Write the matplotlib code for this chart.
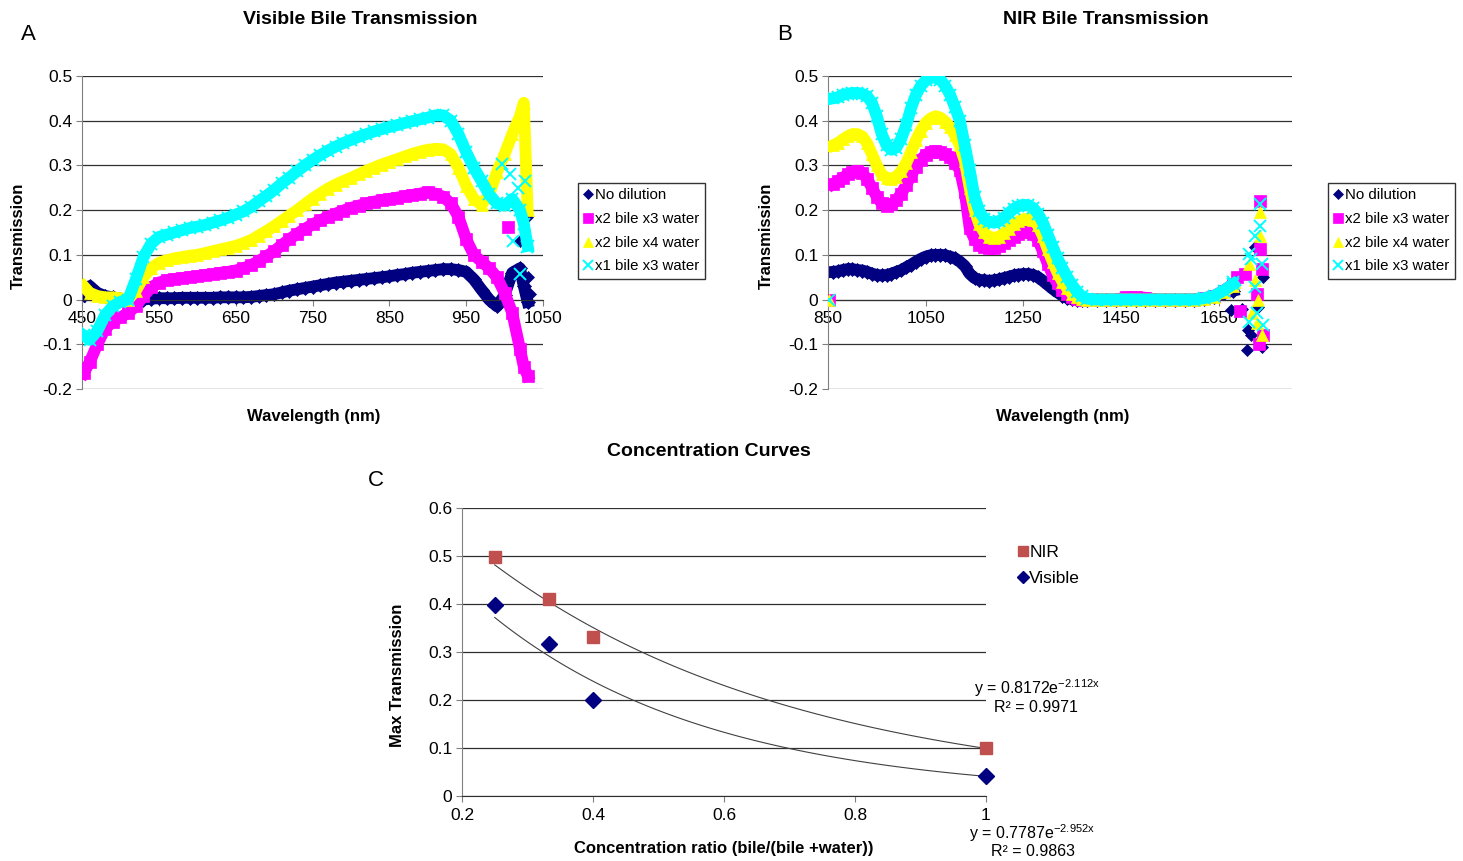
import numpy as np
import matplotlib
matplotlib.use('Agg')
import matplotlib.pyplot as plt
from matplotlib.ticker import FuncFormatter

plt.rcParams['font.family'] = ['Liberation Sans', 'DejaVu Sans']
plt.rcParams['mathtext.fontset'] = 'custom'
plt.rcParams['mathtext.rm'] = 'Liberation Sans'

# ---- visible spectra (panel A) ----
vis_wl = [452, 460, 470, 480, 490, 500, 510, 520, 530, 540, 550, 560, 570, 580, 590,
          600, 610, 620, 630, 640, 650, 660, 670, 680, 690, 700, 710, 720, 730, 740,
          750, 760, 770, 780, 790, 800, 810, 820, 830, 840, 850, 860, 870, 880, 890,
          900, 910, 920, 930, 940, 950, 960, 970, 980, 990, 1000, 1010, 1020, 1025, 1030]
vis_no_dilution = [0.01, 0.03, 0.015, 0.008, 0.005, 0.002, 0.0, 0.0, 0.0, 0.002, 0.003, 0.003, 0.003, 0.004, 0.004,
                   0.004, 0.004, 0.004, 0.005, 0.005, 0.005, 0.005, 0.006, 0.008, 0.01, 0.012, 0.016, 0.02, 0.023, 0.026,
                   0.029, 0.032, 0.035, 0.038, 0.04, 0.042, 0.044, 0.046, 0.048, 0.05, 0.052, 0.055, 0.057, 0.06, 0.062,
                   0.064, 0.066, 0.068, 0.068, 0.066, 0.062, 0.045, 0.022, 0.0, -0.015, 0.01, 0.06, 0.07, 0.03, -0.005]
vis_x2b_x3w = [-0.165, -0.14, -0.1, -0.065, -0.05, -0.04, -0.03, -0.015, 0.008, 0.027, 0.038, 0.043, 0.046, 0.048, 0.05,
               0.052, 0.055, 0.057, 0.06, 0.062, 0.065, 0.07, 0.077, 0.086, 0.097, 0.108, 0.122, 0.135, 0.147, 0.158,
               0.168, 0.177, 0.185, 0.192, 0.199, 0.205, 0.21, 0.215, 0.219, 0.222, 0.225, 0.228, 0.231, 0.234, 0.237,
               0.24, 0.237, 0.23, 0.215, 0.185, 0.135, 0.1, 0.085, 0.07, 0.05, 0.015, -0.03, -0.11, -0.15, -0.17]
vis_x2b_x4w = [0.03, 0.015, 0.008, 0.005, 0.005, 0.003, 0.0, 0.02, 0.05, 0.07, 0.082, 0.088, 0.092, 0.095, 0.098,
               0.1, 0.104, 0.108, 0.112, 0.116, 0.12, 0.126, 0.133, 0.143, 0.153, 0.164, 0.176, 0.188, 0.2, 0.213,
               0.226, 0.237, 0.248, 0.257, 0.265, 0.272, 0.28, 0.288, 0.295, 0.302, 0.308, 0.314, 0.32, 0.326, 0.331,
               0.335, 0.337, 0.336, 0.325, 0.295, 0.255, 0.225, 0.212, 0.235, 0.285, 0.325, 0.37, 0.41, 0.44, 0.2]
vis_x1b_x3w = [-0.08, -0.09, -0.07, -0.035, -0.015, -0.005, 0.0, 0.045, 0.095, 0.125, 0.14, 0.145, 0.15, 0.155, 0.16,
               0.163, 0.167, 0.172, 0.177, 0.183, 0.19, 0.197, 0.207, 0.22, 0.232, 0.245, 0.26, 0.273, 0.287, 0.3,
               0.312, 0.323, 0.333, 0.342, 0.35, 0.357, 0.364, 0.37, 0.376, 0.381, 0.386, 0.39, 0.395, 0.399, 0.403,
               0.407, 0.412, 0.412, 0.4, 0.37, 0.33, 0.295, 0.265, 0.235, 0.215, 0.21, 0.225, 0.2, 0.17, 0.12]

# scattered points at the noisy red end of the visible range
vis_no_dilution_pts_x = [1020, 1029, 1031, 1033]
vis_no_dilution_pts_y = [0.13, 0.184, 0.05, 0.013]
vis_x2b_x3w_pts_x = [1005]
vis_x2b_x3w_pts_y = [0.162]
vis_x2b_x4w_pts_x = []
vis_x2b_x4w_pts_y = []
vis_x1b_x3w_pts_x = [996, 1007, 1011, 1018, 1020, 1027, 1029]
vis_x1b_x3w_pts_y = [0.304, 0.28, 0.132, 0.25, 0.057, 0.266, 0.117]

# ---- NIR spectra (panel B) ----
nir_wl = [860, 870, 880, 890, 900, 910, 920, 930, 940, 950, 960, 970, 980, 990, 1000,
          1010, 1020, 1030, 1040, 1050, 1060, 1070, 1080, 1090, 1100, 1110, 1120, 1130, 1140, 1150,
          1160, 1170, 1180, 1190, 1200, 1210, 1220, 1230, 1240, 1250, 1260, 1270, 1280, 1290, 1300,
          1310, 1320, 1330, 1340, 1350, 1360, 1370, 1380, 1400, 1420, 1440, 1460, 1480, 1500, 1520,
          1540, 1560, 1580, 1600, 1620, 1640, 1660, 1680]
nir_no_dilution = [0.062, 0.063, 0.066, 0.068, 0.068, 0.066, 0.065, 0.062, 0.058, 0.055, 0.054, 0.055, 0.058, 0.062, 0.066,
                   0.072, 0.078, 0.085, 0.091, 0.096, 0.099, 0.1, 0.1, 0.099, 0.096, 0.092, 0.085, 0.075, 0.058, 0.048,
                   0.044, 0.043, 0.042, 0.043, 0.045, 0.048, 0.051, 0.054, 0.056, 0.057, 0.057, 0.055, 0.05, 0.042, 0.033,
                   0.024, 0.016, 0.009, 0.004, 0.001, 0.0, 0.0, 0.0, 0.0, 0.0, 0.0, 0.0, 0.0, 0.0, 0.0,
                   0.0, 0.0, 0.0, 0.0, 0.002, 0.005, 0.015, 0.02]
nir_x2b_x3w = [0.258, 0.265, 0.272, 0.28, 0.286, 0.288, 0.283, 0.27, 0.25, 0.23, 0.215, 0.21, 0.213, 0.222, 0.237,
               0.256, 0.277, 0.297, 0.313, 0.324, 0.33, 0.332, 0.331, 0.326, 0.318, 0.305, 0.29, 0.24, 0.16, 0.135,
               0.123, 0.117, 0.115, 0.116, 0.12, 0.126, 0.133, 0.14, 0.146, 0.15, 0.151, 0.147, 0.133, 0.108, 0.08,
               0.055, 0.036, 0.022, 0.012, 0.006, 0.002, 0.0, 0.0, 0.0, 0.0, 0.0, 0.005, 0.005, 0.004, 0.0,
               0.0, 0.0, 0.0, 0.0, 0.003, 0.008, 0.02, 0.035]
nir_x2b_x4w = [0.345, 0.35, 0.358, 0.365, 0.37, 0.37, 0.365, 0.35, 0.325, 0.3, 0.28, 0.272, 0.27, 0.275, 0.287,
               0.305, 0.33, 0.356, 0.378, 0.395, 0.405, 0.41, 0.407, 0.398, 0.385, 0.368, 0.345, 0.31, 0.25, 0.2,
               0.168, 0.15, 0.14, 0.138, 0.14, 0.148, 0.158, 0.168, 0.175, 0.18, 0.181, 0.178, 0.166, 0.142, 0.112,
               0.085, 0.06, 0.04, 0.025, 0.013, 0.006, 0.002, 0.0, 0.0, 0.0, 0.0, 0.0, 0.0, 0.0, 0.0,
               0.0, 0.0, 0.0, 0.0, 0.002, 0.006, 0.018, 0.03]
nir_x1b_x3w = [0.45, 0.452, 0.458, 0.46, 0.462, 0.462, 0.46, 0.455, 0.44, 0.41, 0.37, 0.345, 0.335, 0.34, 0.36,
               0.39, 0.428, 0.458, 0.478, 0.49, 0.496, 0.497, 0.492, 0.478, 0.458, 0.43, 0.4, 0.345, 0.29, 0.23,
               0.197, 0.18, 0.174, 0.172, 0.175, 0.183, 0.193, 0.203, 0.209, 0.212, 0.211, 0.205, 0.192, 0.172, 0.145,
               0.118, 0.092, 0.07, 0.05, 0.032, 0.018, 0.007, 0.002, 0.0, 0.0, 0.0, 0.0, 0.0, 0.0, 0.0,
               0.0, 0.0, 0.0, 0.0, 0.003, 0.008, 0.02, 0.035]

# scattered points (start marker at 850 and noisy detector edge)
nir_no_dilution_pts_x = [853, 1676, 1697, 1707, 1710, 1717, 1724, 1731, 1738, 1741]
nir_no_dilution_pts_y = [0.0, -0.024, -0.02, -0.113, -0.068, -0.08, 0.117, -0.016, -0.105, 0.05]
nir_x2b_x3w_pts_x = [853, 1687, 1694, 1704, 1728, 1734, 1735, 1733, 1738, 1740]
nir_x2b_x3w_pts_y = [0.0, 0.05, -0.025, 0.058, 0.013, 0.22, 0.113, -0.1, 0.069, -0.08]
nir_x2b_x4w_pts_x = [853, 1711, 1718, 1724, 1728, 1731, 1734, 1734, 1738]
nir_x2b_x4w_pts_y = [0.0, 0.08, -0.031, 0.043, -0.053, 0.0, 0.195, 0.143, -0.08]
nir_x1b_x3w_pts_x = [853, 1680, 1711, 1711, 1717, 1724, 1724, 1728, 1734, 1734, 1738, 1741]
nir_x1b_x3w_pts_y = [0.0, 0.04, 0.102, -0.05, 0.091, 0.143, 0.028, -0.031, 0.213, 0.165, 0.08, -0.057]

# ---- concentration curves (panel C) ----
conc_ratio = [0.25, 0.333, 0.4, 1.0]
max_nir = [0.497, 0.41, 0.332, 0.1]
max_visible = [0.398, 0.317, 0.2, 0.042]

series_names = ['No dilution', 'x2 bile x3 water', 'x2 bile x4 water', 'x1 bile x3 water']
series_colors = ['#000080', '#FF00FF', '#FFFF00', '#00FFFF']
series_markers = ['D', 's', '^', 'x']
series_ms = [5, 6.5, 7, 6.5]

W, H = 1463, 861
fig = plt.figure(figsize=(W / 100, H / 100), dpi=100)


def fx(px):
    return px / W


def fy(py):
    return 1 - py / H


def axes_px(left, top, right, bottom):
    return fig.add_axes([fx(left), fy(bottom), (right - left) / W, (bottom - top) / H])


fmt = FuncFormatter(lambda v, p: '%g' % round(v, 3))


def style_axes(ax, xlim, xticks, ylim, yticks):
    ax.set_xlim(*xlim)
    ax.set_ylim(*ylim)
    ax.set_xticks(xticks)
    ax.set_yticks(yticks)
    ax.xaxis.set_major_formatter(fmt)
    ax.yaxis.set_major_formatter(fmt)
    for y in yticks:
        ax.axhline(y, color='#303030', lw=0.9, zorder=0)
    ax.spines['top'].set_visible(False)
    ax.spines['right'].set_visible(False)
    ax.spines['left'].set_color('#808080')
    ax.spines['bottom'].set_position(('data', 0))
    ax.spines['bottom'].set_color('#303030')
    ax.tick_params(axis='both', labelsize=12.5, length=4, color='#808080', pad=3)
    ax.tick_params(axis='x', pad=4)


def draw_spectra(ax, wl, ys, pts):
    for i, y in enumerate(ys):
        mew = 1.4 if series_markers[i] == 'x' else 0.5
        ax.plot(wl, y, color=series_colors[i], lw=8.5, solid_joinstyle='round', zorder=2 + i)
        ax.plot(wl, y, ls='none', marker=series_markers[i], ms=series_ms[i] + 2, color=series_colors[i],
                mew=mew, zorder=2 + i)
        ax.plot([], [], ls='none', marker=series_markers[i], ms=series_ms[i], color=series_colors[i],
                mew=mew, label=series_names[i])
        ax.plot(pts[i][0], pts[i][1], ls='none', marker=series_markers[i], ms=series_ms[i] + 1.5,
                color=series_colors[i], mew=mew, zorder=2 + i)


def spectra_legend(ax, left, top):
    ax.legend(loc='upper left', bbox_to_anchor=(fx(left), fy(top)), bbox_transform=fig.transFigure,
              fontsize=10.8, frameon=True, fancybox=False, edgecolor='black', handlelength=0.6,
              handletextpad=0.2, labelspacing=0.65, borderpad=0.35, borderaxespad=0)


# panel A
axA = axes_px(82, 76, 543, 389)
style_axes(axA, (450, 1050), range(450, 1051, 100), (-0.2, 0.5), np.arange(-0.2, 0.51, 0.1))
draw_spectra(axA, vis_wl, [vis_no_dilution, vis_x2b_x3w, vis_x2b_x4w, vis_x1b_x3w],
             pts=[(vis_no_dilution_pts_x, vis_no_dilution_pts_y), (vis_x2b_x3w_pts_x, vis_x2b_x3w_pts_y),
                  (vis_x2b_x4w_pts_x, vis_x2b_x4w_pts_y), (vis_x1b_x3w_pts_x, vis_x1b_x3w_pts_y)])
spectra_legend(axA, 578, 183)

# panel B
axB = axes_px(828, 76, 1292, 389)
style_axes(axB, (850, 1800), range(850, 1651, 200), (-0.2, 0.5), np.arange(-0.2, 0.51, 0.1))
draw_spectra(axB, nir_wl, [nir_no_dilution, nir_x2b_x3w, nir_x2b_x4w, nir_x1b_x3w],
             pts=[(nir_no_dilution_pts_x, nir_no_dilution_pts_y), (nir_x2b_x3w_pts_x, nir_x2b_x3w_pts_y),
                  (nir_x2b_x4w_pts_x, nir_x2b_x4w_pts_y), (nir_x1b_x3w_pts_x, nir_x1b_x3w_pts_y)])
spectra_legend(axB, 1328, 183)

# panel C
axC = axes_px(462, 508, 986, 796)
style_axes(axC, (0.2, 1.0), [0.2, 0.4, 0.6, 0.8, 1.0], (0, 0.6), np.arange(0, 0.61, 0.1))
axC.tick_params(axis='x', pad=5)
xs = np.linspace(min(conc_ratio), max(conc_ratio), 100)
for vals in (max_nir, max_visible):
    b, a = np.polyfit(conc_ratio, np.log(vals), 1)
    axC.plot(xs, np.exp(a) * np.exp(b * xs), color='#404040', lw=0.8, zorder=2)
axC.plot(conc_ratio, max_nir, ls='none', marker='s', ms=9, color='#C0504D', label='NIR', zorder=3, clip_on=False)
axC.plot(conc_ratio, max_visible, ls='none', marker='D', ms=8, color='#000080', label='Visible', zorder=3,
         clip_on=False)
axC.legend(loc='upper left', bbox_to_anchor=(fx(1019), fy(545)), bbox_transform=fig.transFigure,
           fontsize=12.5, frameon=False, handlelength=0.5, handletextpad=0.1, labelspacing=0.6,
           borderpad=0, borderaxespad=0, markerscale=0.75)

# titles, labels and annotations
bold = dict(fontweight='bold', ha='center', va='center')
fig.text(fx(360), fy(20), 'Visible Bile Transmission', fontsize=14, **bold)
fig.text(fx(1106), fy(20), 'NIR Bile Transmission', fontsize=14, **bold)
fig.text(fx(709), fy(452), 'Concentration Curves', fontsize=14, **bold)
fig.text(fx(314), fy(416), 'Wavelength (nm)', fontsize=12, **bold)
fig.text(fx(1063), fy(416), 'Wavelength (nm)', fontsize=12, **bold)
fig.text(fx(18), fy(236), 'Transmission', fontsize=12, rotation=90, **bold)
fig.text(fx(766), fy(236), 'Transmission', fontsize=12, rotation=90, **bold)
fig.text(fx(724), fy(849), 'Concentration ratio (bile/(bile +water))', fontsize=12, **bold)
fig.text(fx(398), fy(675), 'Max Transmission', fontsize=12, rotation=90, **bold)

for letter, px, py in (('A', 28, 34), ('B', 785, 34), ('C', 376, 481)):
    fig.text(fx(px), fy(py), letter, fontsize=16, ha='center', va='center')

fig.text(fx(1037), fy(688), r'y = 0.8172e$^{\mathregular{-2.112x}}$', fontsize=11.5, ha='center', va='center')
fig.text(fx(1036), fy(707), 'R² = 0.9971', fontsize=11.5, ha='center', va='center')
fig.text(fx(1032), fy(833), r'y = 0.7787e$^{\mathregular{-2.952x}}$', fontsize=11.5, ha='center', va='center')
fig.text(fx(1033), fy(851), 'R² = 0.9863', fontsize=11.5, ha='center', va='center')

fig.savefig('out.png', dpi=100)
